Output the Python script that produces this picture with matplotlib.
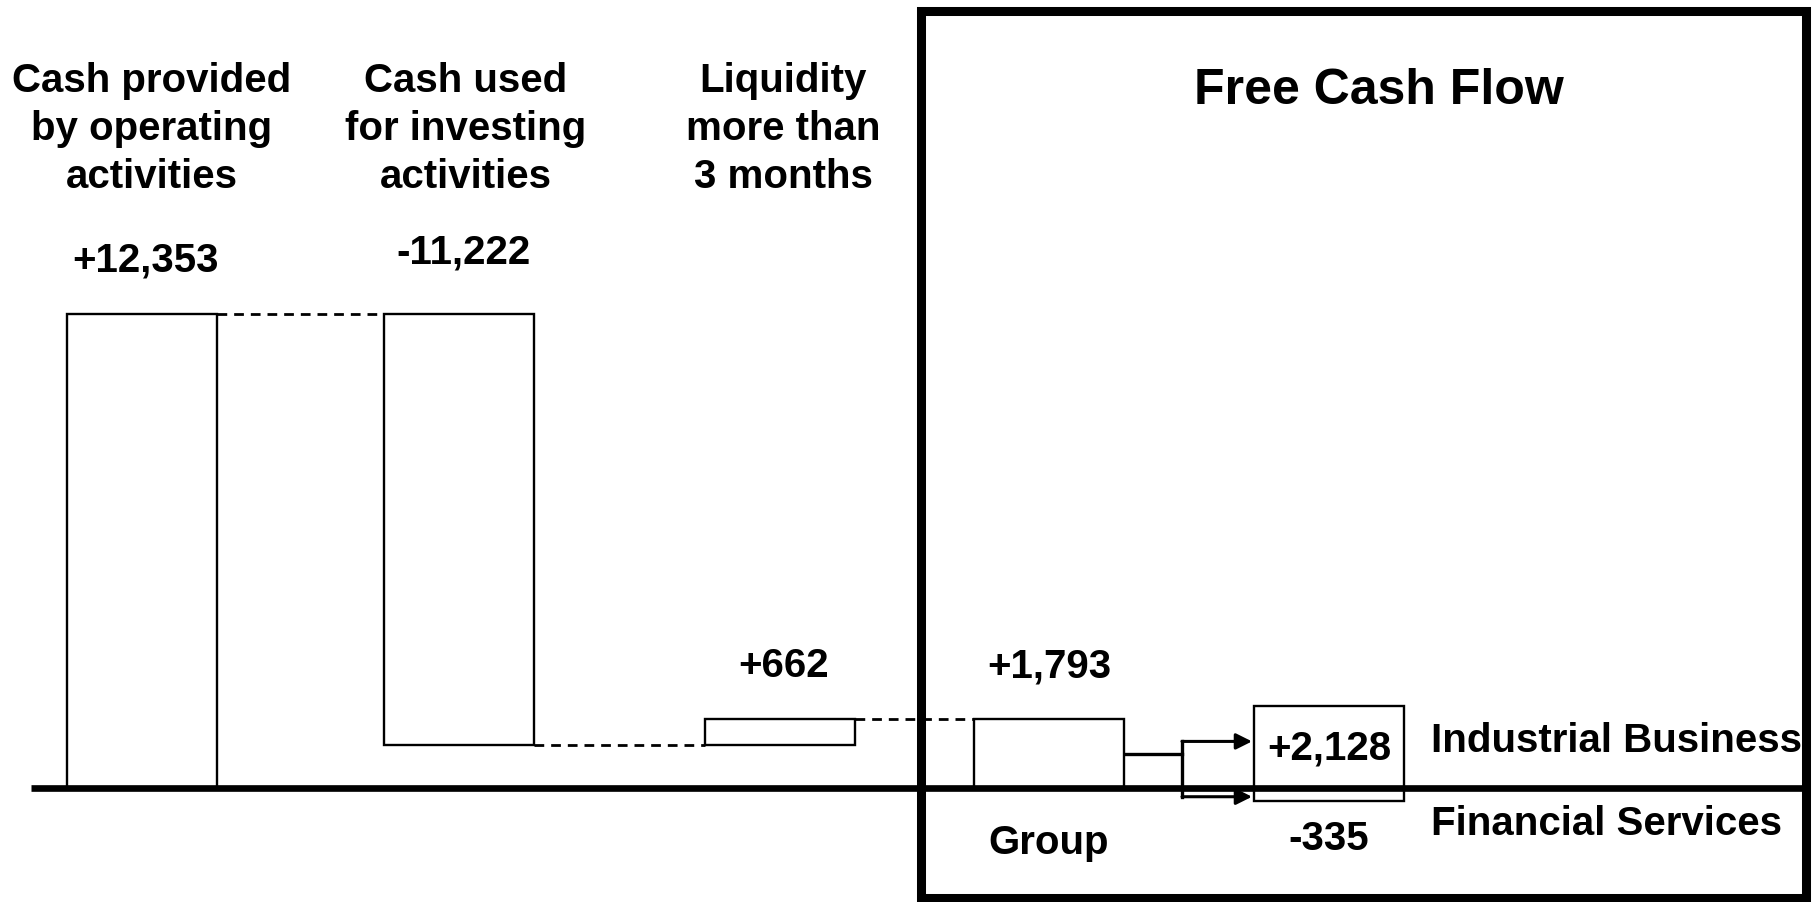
import matplotlib.pyplot as plt
from matplotlib.patches import Rectangle

plt.rcParams['font.family'] = ['Liberation Sans', 'DejaVu Sans']
plt.rcParams['font.weight'] = 'bold'

# data (EUR million)
categories = ["Cash provided\nby operating\nactivities",
              "Cash used\nfor investing\nactivities",
              "Liquidity\nmore than\n3 months"]
flows = [12353, -11222, 662]
group_fcf = 1793
segments = ["Industrial Business", "Financial Services"]
segment_fcf = [2128, -335]

# layout (pixel-like units, figure is 1816 x 903)
W, H = 1816, 903
BASE_PY = 789            # pixel row of the zero line
PX_PER_UNIT = 474 / 12353
bar_left = [67, 384, 705]
head_x = [152, 466, 783]
bar_w = 150
group_left = 974
seg_left = 1254
label_x = 1431

fig = plt.figure(figsize=(W / 100, H / 100), dpi=100)
ax = fig.add_axes([0, 0, 1, 1])
ax.set_xlim(0, W)
ax.set_ylim((BASE_PY - H) / PX_PER_UNIT, BASE_PY / PX_PER_UNIT)
ax.axis('off')
xt = ax.get_xaxis_transform()

# waterfall bars
running = 0
for i, (cat, val) in enumerate(zip(categories, flows)):
    lo, hi = sorted([running, running + val])
    ax.bar(bar_left[i], hi - lo, bottom=lo, width=bar_w, align='edge',
           facecolor='white', edgecolor='black', linewidth=1.7, zorder=3)
    cx = bar_left[i] + bar_w / 2
    off = 45 if val < 0 else 39
    ax.annotate(f"{val:+,}", (cx + 4, hi), xytext=(0, off),
                textcoords='offset points', ha='center', va='center',
                fontsize=29, fontweight='bold')
    ax.text(head_x[i], 1 - 129 / H, cat, transform=xt, ha='center',
            va='center', fontsize=29, fontweight='bold', linespacing=1.32)
    # dashed connector to next bar
    end = running + val
    nxt = bar_left[i + 1] if i + 1 < len(bar_left) else group_left
    ax.plot([bar_left[i] + bar_w, nxt], [end, end], color='black',
            linestyle=(0, (3.5, 2.5)), linewidth=2.0, zorder=2)
    running = end

# group free cash flow
ax.bar(group_left, group_fcf, width=bar_w, align='edge', facecolor='white',
       edgecolor='black', linewidth=1.7, zorder=3)
gcx = group_left + bar_w / 2
ax.annotate(f"{group_fcf:+,}", (gcx, group_fcf), xytext=(0, 39),
            textcoords='offset points', ha='center', va='center',
            fontsize=29, fontweight='bold')
ax.text(gcx, 1 - 843 / H, "Group", transform=xt,
        ha='center', va='center', fontsize=29, fontweight='bold')

# segment split
seg_mid = []
for name, val in zip(segments, segment_fcf):
    ax.bar(seg_left, val, width=bar_w, align='edge', facecolor='white',
           edgecolor='black', linewidth=1.7, zorder=3)
    seg_mid.append(val / 2)
scx = seg_left + bar_w / 2
ax.text(scx, segment_fcf[0] / 2, f"{segment_fcf[0]:+,}", ha='center',
        va='center', fontsize=29, fontweight='bold', zorder=4)
ax.annotate(f"{segment_fcf[1]:,}", (scx, segment_fcf[1]),
            xytext=(0, -27), textcoords='offset points', ha='center',
            va='center', fontsize=29, fontweight='bold')
ax.text(label_x, 1 - 741 / H, segments[0], transform=xt,
        ha='left', va='center', fontsize=29, fontweight='bold')
ax.text(label_x, 1 - 824 / H, segments[1], transform=xt,
        ha='left', va='center', fontsize=29, fontweight='bold')

# connector with arrows
split_x = 1182
ax.plot([group_left + bar_w, split_x], [group_fcf / 2, group_fcf / 2],
        color='black', linewidth=2.4, zorder=2)
ax.plot([split_x, split_x], [min(seg_mid) - 60, max(seg_mid) + 150],
        color='black', linewidth=2.4, zorder=2)
for m in [max(seg_mid) + 150, min(seg_mid) - 60]:
    ax.annotate("", xy=(seg_left - 2, m), xytext=(split_x, m),
                arrowprops=dict(arrowstyle='-|>', color='black', lw=2.2,
                                mutation_scale=24, shrinkA=0, shrinkB=0))

# zero line
ax.plot([31, 1802], [0, 0], color='black', linewidth=4.8, zorder=5,
        solid_capstyle='butt')

# free cash flow frame
fig.patches.append(Rectangle((921 / W, 4 / H), (1806 - 921) / W,
                             (899 - 12) / H, transform=fig.transFigure,
                             fill=False, edgecolor='black', linewidth=6.5))
fig.text(1379 / W, 1 - 91 / H, "Free Cash Flow", ha='center', va='center',
         fontsize=36, fontweight='bold')

plt.savefig("out.png", dpi=100)
plt.close()
